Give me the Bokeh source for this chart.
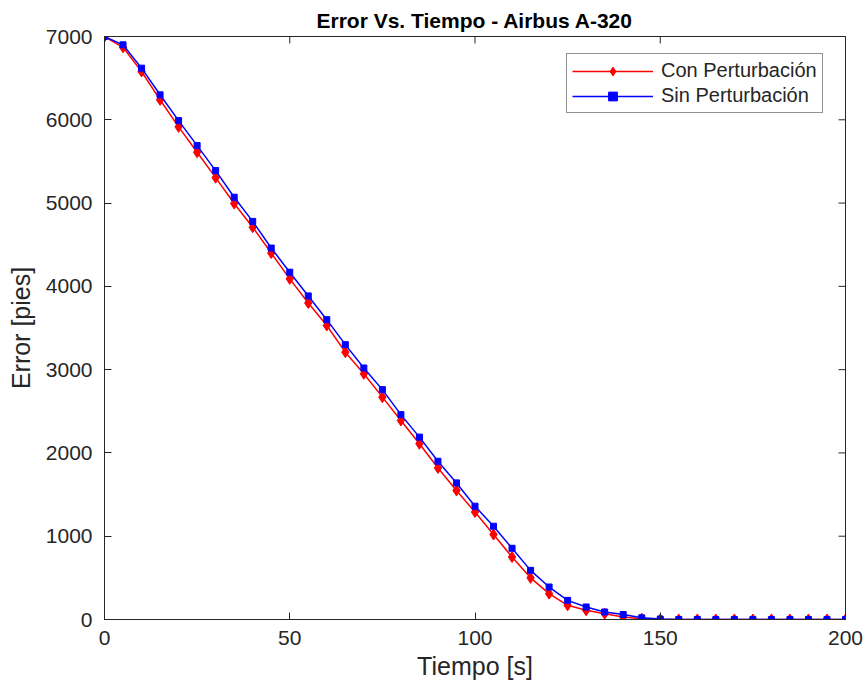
import math
from bokeh.plotting import figure
from bokeh.models import Range1d, Legend, LegendItem, FixedTicker
from bokeh.embed import file_html
from bokeh.resources import INLINE

# Data
tiempo = list(range(0, 205, 5))
con_perturbacion = [7000, 6870, 6580, 6240, 5915, 5610, 5305, 4995, 4710, 4400,
                    4090, 3800, 3530, 3210, 2950, 2670, 2390, 2110, 1820, 1550,
                    1290, 1020, 750, 500, 310, 170, 110, 70, 30, 10,
                    0, 0, 0, 0, 0, 0, 0, 0, 0, 0, 0]
sin_perturbacion = [7000, 6900, 6620, 6300, 5990, 5690, 5390, 5070, 4780, 4460,
                    4170, 3885, 3600, 3300, 3020, 2760, 2460, 2190, 1900, 1640,
                    1360, 1120, 855, 590, 390, 230, 150, 90, 60, 20,
                    5, 0, 0, 0, 0, 0, 0, 0, 0, 0, 0]
x_ticks = [0, 50, 100, 150, 200]
y_ticks = [0, 1000, 2000, 3000, 4000, 5000, 6000, 7000]
x_min, x_max = 0, 200
y_min, y_max = 0, 7000

FONT = "Liberation Sans"
TXT = "#262626"

p = figure(width=867, height=695, output_backend="svg", toolbar_location=None,
           x_range=Range1d(x_min, x_max), y_range=Range1d(y_min, y_max),
           min_border_left=104, min_border_right=22, min_border_top=36,
           min_border_bottom=76)
p.title.text = "Error Vs. Tiempo - Airbus A-320"
p.title.align = "center"
p.title.text_font = FONT
p.title.text_font_size = "21px"
p.title.text_font_style = "bold"
p.title.text_color = "black"
p.title.standoff = 10

p.xgrid.visible = False
p.ygrid.visible = False
p.outline_line_color = TXT
p.outline_line_width = 1
p.background_fill_color = "white"
p.border_fill_color = "white"

for ax, ticks in ((p.xaxis[0], x_ticks), (p.yaxis[0], y_ticks)):
    ax.ticker = FixedTicker(ticks=ticks)
    ax.major_tick_in = 7
    ax.major_tick_out = 0
    ax.minor_tick_line_color = None
    ax.axis_line_color = TXT
    ax.major_tick_line_color = TXT
    ax.major_label_text_font = FONT
    ax.major_label_text_font_size = "21px"
    ax.major_label_text_color = TXT
    ax.axis_label_text_font = FONT
    ax.axis_label_text_font_size = "25px"
    ax.axis_label_text_font_style = "normal"
    ax.axis_label_text_color = TXT

p.xaxis[0].axis_label = "Tiempo [s]"
p.yaxis[0].axis_label = "Error [pies]"
p.xaxis[0].major_label_standoff = 11
p.yaxis[0].major_label_standoff = 12
p.xaxis[0].axis_label_standoff = 4
p.yaxis[0].axis_label_standoff = 8

# Tick marks on the top and right edges of the box (half clipped by the frame)
p.scatter(x_ticks, [y_max] * len(x_ticks), marker="dash", size=14,
          angle=math.pi / 2, line_color=TXT, line_width=1)
p.scatter([x_max] * len(y_ticks), y_ticks, marker="dash", size=14,
          line_color=TXT, line_width=1)

l1 = p.line(tiempo, con_perturbacion, line_color="#ff0000", line_width=1.5)
s1 = p.scatter(tiempo, con_perturbacion, marker="diamond", size=11,
               fill_color="#ff0000", line_color="#ff0000")
l2 = p.line(tiempo, sin_perturbacion, line_color="#0000ff", line_width=1.5)
s2 = p.scatter(tiempo, sin_perturbacion, marker="square", size=6,
               fill_color="#0000ff", line_color="#0000ff")

legend = Legend(items=[
    LegendItem(label="Con Perturbación", renderers=[l1, s1]),
    LegendItem(label="Sin Perturbación", renderers=[l2, s2]),
])
legend.location = (462, 506)
legend.margin = 0
legend.padding = 5
legend.spacing = 2
legend.glyph_width = 81
legend.glyph_height = 22
legend.label_height = 22
legend.label_standoff = 8
legend.label_text_font = FONT
legend.label_text_font_size = "20px"
legend.label_text_color = TXT
legend.border_line_color = TXT
legend.border_line_width = 1
legend.background_fill_color = "white"
legend.background_fill_alpha = 1
p.add_layout(legend, "center")

open("out.html", "w").write(file_html(p, INLINE))
